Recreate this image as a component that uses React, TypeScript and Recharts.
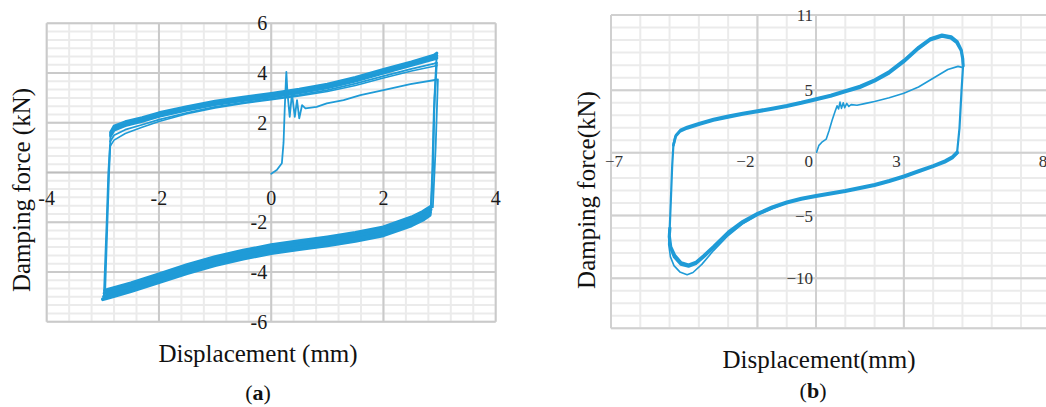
import React from 'react';
import { LineChart, Line, XAxis, YAxis, ReferenceLine, ReferenceDot } from 'recharts';

const BLUE = '#1f9bd7';
const SERIF = '"Liberation Serif", "Times New Roman", serif';

// ---------- Panel (a) ----------
const aXTicks = [-4, -2, 0, 2, 4];
const aYTicks = [6, 4, 2, -2, -4, -6];
const aXMajor = [-4, -2, 0, 2, 4];
const aYMajor = [6, 4, 2, 0, -2, -4, -6];

const aInitial = [
  [0, -0.05], [0.1, 0.1], [0.19, 0.37], [0.22, 1.2], [0.24, 2.5], [0.26, 3.6], [0.27, 4.05],
  [0.29, 3.2], [0.33, 2.24], [0.37, 3.18], [0.42, 2.24], [0.46, 2.91], [0.5, 2.18], [0.55, 2.71],
  [0.61, 2.58], [0.81, 2.64], [0.99, 2.78], [1.29, 2.91], [1.59, 3.11], [2.0, 3.31], [2.48, 3.55],
  [2.97, 3.74], [2.93, 1.0], [2.88, -1.4],
];
const aUpperA = [
  [-2.86, 1.62], [-2.8, 1.86], [-2.6, 2.04], [-2.3, 2.2], [-2, 2.4], [-1.5, 2.65], [-1, 2.87],
  [-0.5, 3.03], [0, 3.18], [0.5, 3.35], [1, 3.55], [1.5, 3.82], [2, 4.14], [2.5, 4.45], [2.9, 4.72], [2.95, 4.8],
];
const aUpperB = [
  [-2.86, 1.55], [-2.8, 1.78], [-2.6, 1.96], [-2.3, 2.13], [-2, 2.33], [-1.5, 2.58], [-1, 2.8],
  [-0.5, 2.96], [0, 3.11], [0.5, 3.28], [1, 3.48], [1.5, 3.75], [2, 4.07], [2.5, 4.38], [2.9, 4.64], [2.95, 4.7],
];
const aUpperC = [
  [-2.86, 1.48], [-2.8, 1.7], [-2.6, 1.89], [-2.3, 2.06], [-2, 2.26], [-1.5, 2.51], [-1, 2.73],
  [-0.5, 2.89], [0, 3.04], [0.5, 3.21], [1, 3.41], [1.5, 3.68], [2, 4.0], [2.5, 4.31], [2.9, 4.56], [2.95, 4.6],
];
const aUpperThin1 = [
  [-2.87, 1.25], [-2.8, 1.5], [-2.6, 1.72], [-2.3, 1.92], [-2, 2.13], [-1.5, 2.4], [-1, 2.64],
  [-0.5, 2.81], [0, 2.96], [0.5, 3.12], [1, 3.31], [1.5, 3.57], [2, 3.88], [2.5, 4.17], [2.9, 4.38], [2.95, 4.42],
];
const aUpperThin2 = [
  [-2.87, 1.05], [-2.8, 1.3], [-2.6, 1.57], [-2.3, 1.82], [-2, 2.05], [-1.5, 2.36], [-1, 2.6],
  [-0.5, 2.78], [0, 2.93], [0.5, 3.08], [1, 3.26], [1.5, 3.5], [2, 3.8], [2.5, 4.08], [2.9, 4.27], [2.95, 4.3],
];
const aLowerA = [
  [2.84, -1.38], [2.7, -1.58], [2.5, -1.8], [2, -2.2], [1.5, -2.42], [1, -2.6], [0.5, -2.76], [0, -2.92],
  [-0.5, -3.14], [-1, -3.4], [-1.5, -3.72], [-2, -4.09], [-2.5, -4.45], [-2.9, -4.7], [-2.96, -4.74],
];
const aLowerB = [
  [2.84, -1.49], [2.7, -1.69], [2.5, -1.91], [2, -2.31], [1.5, -2.53], [1, -2.71], [0.5, -2.87], [0, -3.03],
  [-0.5, -3.25], [-1, -3.51], [-1.5, -3.83], [-2, -4.2], [-2.5, -4.56], [-2.9, -4.81], [-2.97, -4.86],
];
const aLowerC = [
  [2.83, -1.6], [2.7, -1.8], [2.5, -2.02], [2, -2.42], [1.5, -2.64], [1, -2.82], [0.5, -2.98], [0, -3.14],
  [-0.5, -3.36], [-1, -3.62], [-1.5, -3.94], [-2, -4.31], [-2.5, -4.67], [-2.9, -4.93], [-2.98, -4.99],
];
const aLowerD = [
  [2.82, -1.72], [2.7, -1.91], [2.5, -2.13], [2, -2.53], [1.5, -2.75], [1, -2.93], [0.5, -3.09], [0, -3.25],
  [-0.5, -3.47], [-1, -3.73], [-1.5, -4.05], [-2, -4.42], [-2.5, -4.78], [-2.9, -5.04], [-3.0, -5.1],
];
const aLeftEdge1 = [[-2.98, -5.0], [-2.93, -2.0], [-2.9, 0], [-2.87, 1.1]];
const aLeftEdge2 = [[-2.96, -4.75], [-2.92, -2.0], [-2.89, 0], [-2.86, 1.62]];
const aRightEdge1 = [[2.95, 4.8], [2.91, 3.0], [2.88, 0], [2.85, -1.4]];
const aRightEdge2 = [[2.95, 4.4], [2.9, 2.5], [2.87, 0], [2.84, -1.7]];

// ---------- Panel (b) ----------
const bXTicks = [-7, -2, 0, 3, 8];
const bYTicks = [11, 5, -5, -10];
const bXMajor = [-7, -2, 0, 3, 8];
const bYMajor = [11, 5, 0, -5, -10, -14];

const bInitial = [
  [0.02, 0.05], [0.1, 0.6], [0.2, 0.85], [0.35, 1.1], [0.45, 1.8], [0.55, 2.6], [0.65, 3.3], [0.72, 3.75],
  [0.77, 3.5], [0.82, 4.05], [0.87, 3.55], [0.93, 4.0], [0.98, 3.6], [1.05, 3.95], [1.12, 3.7], [1.2, 3.85],
  [1.4, 3.8], [1.7, 3.95], [2.0, 4.1], [2.5, 4.4], [3.0, 4.75], [3.5, 5.25], [4.0, 5.95], [4.5, 6.65],
  [4.85, 6.9], [5.02, 6.8],
];
const bUpper1 = [
  [-4.87, 0.6], [-4.8, 1.3], [-4.65, 1.7], [-4.4, 1.95], [-4, 2.25], [-3.5, 2.58], [-3, 2.83], [-2.5, 3.06],
  [-2, 3.26], [-1.5, 3.46], [-1, 3.68], [-0.5, 3.93], [0, 4.22], [0.5, 4.5], [1, 4.85], [1.5, 5.2], [2, 5.7],
  [2.5, 6.35], [3, 7.25], [3.5, 8.3], [3.9, 8.98], [4.3, 9.28], [4.6, 9.15], [4.8, 8.78], [4.95, 8.15],
  [5.0, 7.5], [5.02, 6.9],
];
const bUpper2 = [
  [-4.86, 0.7], [-4.78, 1.42], [-4.63, 1.82], [-4.4, 2.07], [-4, 2.37], [-3.5, 2.7], [-3, 2.95], [-2.5, 3.18],
  [-2, 3.38], [-1.5, 3.58], [-1, 3.8], [-0.5, 4.05], [0, 4.34], [0.5, 4.62], [1, 4.97], [1.5, 5.33], [2, 5.84],
  [2.5, 6.5], [3, 7.4], [3.5, 8.45], [3.9, 9.12], [4.3, 9.42], [4.62, 9.28], [4.83, 8.88], [4.97, 8.2],
  [5.02, 7.5], [5.03, 6.95],
];
const bLower1 = [
  [4.82, 0.1], [4.65, -0.3], [4.4, -0.62], [4.0, -1.0], [3.5, -1.4], [3, -1.82], [2.5, -2.18], [2, -2.5],
  [1.5, -2.75], [1, -2.98], [0.5, -3.18], [0, -3.38], [-0.5, -3.6], [-1, -3.9], [-1.5, -4.3], [-2, -4.82],
  [-2.5, -5.45], [-3, -6.3], [-3.5, -7.45], [-3.85, -8.2], [-4.1, -8.7], [-4.35, -8.92], [-4.6, -8.75],
  [-4.82, -8.15], [-4.95, -7.5], [-5.0, -6.6], [-4.98, -6.0],
];
const bLower2 = [
  [4.84, 0.0], [4.66, -0.42], [4.4, -0.75], [4.0, -1.12], [3.5, -1.52], [3, -1.94], [2.5, -2.3], [2, -2.62],
  [1.5, -2.87], [1, -3.1], [0.5, -3.3], [0, -3.5], [-0.5, -3.72], [-1, -4.02], [-1.5, -4.42], [-2, -4.95],
  [-2.5, -5.6], [-3, -6.45], [-3.5, -7.6], [-3.85, -8.35], [-4.1, -8.85], [-4.35, -9.07], [-4.62, -8.9],
  [-4.85, -8.3], [-4.97, -7.6], [-5.02, -6.7], [-5.0, -6.0],
];
const bLowerOuter = [
  [0, -3.45], [-1, -3.98], [-2, -4.95], [-2.5, -5.65], [-3, -6.6], [-3.5, -7.8], [-3.9, -8.9], [-4.2, -9.55],
  [-4.4, -9.72], [-4.65, -9.5], [-4.85, -9.0], [-4.97, -8.3], [-5.03, -7.3], [-5.02, -6.6],
];
const bLeftEdge = [[-5.0, -6.3], [-4.96, -4.0], [-4.91, -1.0], [-4.87, 0.6]];
const bRightEdge = [[5.02, 6.9], [4.97, 5.0], [4.9, 2.0], [4.82, 0.1]];

// ---------- helpers ----------
const pts = (a: number[][]) => a.map(([x, y]) => ({ x, y }));
const steps = (from: number, to: number, n: number) => {
  const out: number[] = [];
  for (let i = 0; i <= n; i++) out.push(from + ((to - from) * i) / n);
  return out;
};
const fmtA = (v: number) => String(v);
const fmtB = (v: number) => (v < 0 ? '\u2212' + Math.abs(v) : String(v));

function tickText(text: string, dx: number, dy: number, anchor: string, size: number, color: string) {
  return (props: any) => {
    const vb = props.viewBox || {};
    const cx = (vb.x ?? 0) + (vb.width ?? 0) / 2;
    const cy = (vb.y ?? 0) + (vb.height ?? 0) / 2;
    return (
      <text x={cx + dx} y={cy + dy} textAnchor={anchor as any} fontSize={size} fontFamily={SERIF} fill={color}>
        {text}
      </text>
    );
  };
}

const series = (data: number[][], key: string, w: number) => (
  <Line
    key={key}
    data={pts(data)}
    dataKey="y"
    type="linear"
    stroke={BLUE}
    strokeWidth={w}
    dot={false}
    activeDot={false}
    isAnimationActive={false}
    strokeLinejoin="round"
    strokeLinecap="round"
  />
);

function PanelA() {
  const xMinor = steps(-4, 4, 20);
  const yMinor = steps(-6, 6, 36);
  return (
    <LineChart width={520} height={340} margin={{ top: 23.3, right: 24.3, bottom: 18.3, left: 46.7 }}>
      <XAxis type="number" dataKey="x" domain={[-4, 4]} allowDataOverflow hide />
      <YAxis type="number" domain={[-6, 6]} allowDataOverflow hide />
      {xMinor.map((v) => (
        <ReferenceLine key={'axm' + v} x={v} stroke="#ebebeb" strokeWidth={2} />
      ))}
      {yMinor.map((v) => (
        <ReferenceLine key={'aym' + v} y={v} stroke="#ebebeb" strokeWidth={2} />
      ))}
      {aXMajor.map((v) => (
        <ReferenceLine key={'axM' + v} x={v} stroke="#cacaca" strokeWidth={2} />
      ))}
      {aYMajor.map((v) => (
        <ReferenceLine key={'ayM' + v} y={v} stroke={v === 0 ? '#bdbdbd' : '#cacaca'} strokeWidth={2} />
      ))}
      {series(aLowerD, 'lD', 3.6)}
      {series(aLowerC, 'lC', 3.6)}
      {series(aLowerB, 'lB', 3.6)}
      {series(aLowerA, 'lA', 3.6)}
      {series(aLeftEdge1, 'le1', 2)}
      {series(aLeftEdge2, 'le2', 2)}
      {series(aRightEdge1, 're1', 2)}
      {series(aRightEdge2, 're2', 2)}
      {series(aUpperThin2, 'ut2', 1.6)}
      {series(aUpperThin1, 'ut1', 1.8)}
      {series(aUpperC, 'uC', 3)}
      {series(aUpperB, 'uB', 3)}
      {series(aUpperA, 'uA', 3)}
      {series(aInitial, 'init', 1.8)}
      {aXTicks.map((t) => (
        <ReferenceDot key={'axt' + t} x={t} y={0} r={0} fill="none" stroke="none"
          label={tickText(fmtA(t), 0, 32, 'middle', 20, '#1a1a1a')} />
      ))}
      {aYTicks.map((t) => (
        <ReferenceDot key={'ayt' + t} x={0} y={t} r={0} fill="none" stroke="none"
          label={tickText(fmtA(t), -4, 7, 'end', 20, '#1a1a1a')} />
      ))}
    </LineChart>
  );
}

function PanelB() {
  const xMinor = steps(-7, 8, 15);
  const yMinor = steps(-14, 11, 25);
  return (
    <LineChart width={520} height={340} margin={{ top: 15, right: 29.7, bottom: 11.7, left: 51 }}>
      <XAxis type="number" dataKey="x" domain={[-7, 8]} allowDataOverflow hide />
      <YAxis type="number" domain={[-14, 11]} allowDataOverflow hide />
      {xMinor.map((v) => (
        <ReferenceLine key={'bxm' + v} x={v} stroke="#ebebeb" strokeWidth={2} />
      ))}
      {yMinor.map((v) => (
        <ReferenceLine key={'bym' + v} y={v} stroke="#ebebeb" strokeWidth={2} />
      ))}
      {bXMajor.map((v) => (
        <ReferenceLine key={'bxM' + v} x={v} stroke="#d0d0d0" strokeWidth={2} />
      ))}
      {bYMajor.map((v) => (
        <ReferenceLine key={'byM' + v} y={v} stroke="#d0d0d0" strokeWidth={2} />
      ))}
      {series(bLowerOuter, 'bo', 1.6)}
      {series(bLower2, 'bl2', 2.6)}
      {series(bLower1, 'bl1', 2.6)}
      {series(bLeftEdge, 'ble', 2.2)}
      {series(bRightEdge, 'bre', 2.2)}
      {series(bUpper2, 'bu2', 2.6)}
      {series(bUpper1, 'bu1', 2.6)}
      {series(bInitial, 'binit', 1.6)}
      {bXTicks.map((t, i) => (
        <ReferenceDot key={'bxt' + t} x={t} y={0} r={0} fill="none" stroke="none"
          label={tickText(fmtB(t), i === 0 ? -6 : -3, 14.5, i === 0 ? 'start' : 'end', 17, '#333')} />
      ))}
      {bYTicks.map((t) => (
        <ReferenceDot key={'byt' + t} x={0} y={t} r={0} fill="none" stroke="none"
          label={tickText(fmtB(t), -3, 6, 'end', 17, '#333')} />
      ))}
    </LineChart>
  );
}

export default function App() {
  return (
    <div style={{ position: 'fixed', left: 0, top: 0, width: 1046, height: 407, overflow: 'hidden', background: '#fff' }}>
      <div style={{ position: 'absolute', left: 0, top: 0 }}>
        <PanelA />
      </div>
      <div style={{ position: 'absolute', left: 560, top: 0 }}>
        <PanelB />
      </div>
      <svg width={1046} height={407} style={{ position: 'absolute', left: 0, top: 0, pointerEvents: 'none' }}>
        <g fontFamily={SERIF} fill="#111">
          <text x={29.5} y={190} fontSize={25} textAnchor="middle" transform="rotate(-90 29.5 190)">
            Damping force (kN)
          </text>
          <text x={258} y={362} fontSize={25} textAnchor="middle">Displacement (mm)</text>
          <text x={258} y={400} fontSize={22} textAnchor="middle">
            (<tspan fontWeight="bold">a</tspan>)
          </text>
          <text x={595} y={190} fontSize={25} textAnchor="middle" transform="rotate(-90 595 190)">
            Damping force(kN)
          </text>
          <text x={819} y={368} fontSize={25} textAnchor="middle">Displacement(mm)</text>
          <text x={813} y={398} fontSize={22} textAnchor="middle">
            (<tspan fontWeight="bold">b</tspan>)
          </text>
        </g>
      </svg>
    </div>
  );
}
